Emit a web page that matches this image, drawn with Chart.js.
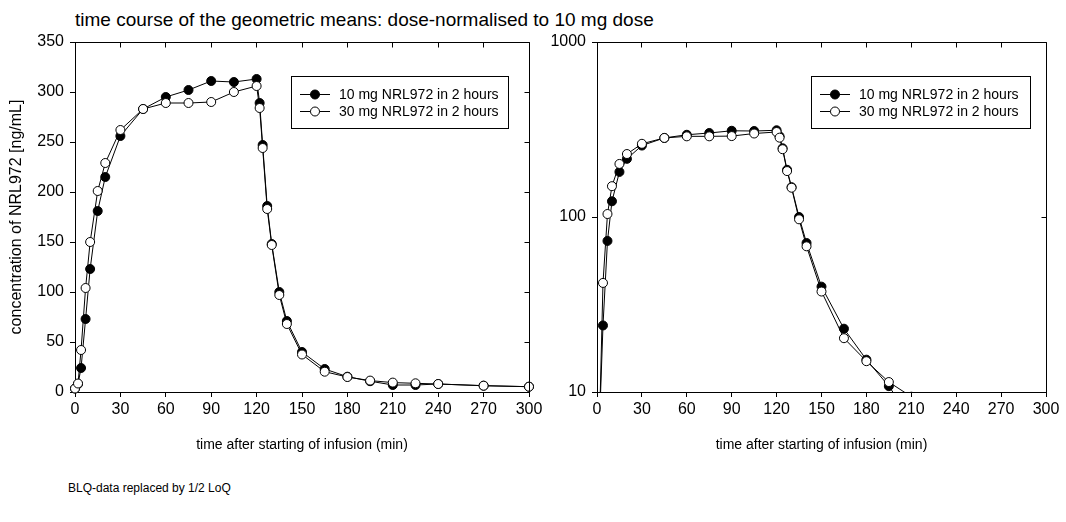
<!DOCTYPE html>
<html>
<head>
<meta charset="utf-8">
<script src="https://cdn.jsdelivr.net/npm/chart.js@4.4.1/dist/chart.umd.min.js"></script>
<style>
  body { margin: 0; background: #fff; }
  #page { position: relative; width: 1066px; height: 522px; overflow: hidden; font-family: "Liberation Sans", Arial, sans-serif; color: #000; }
  #title { position: absolute; left: 75px; top: 9px; font-size: 19px; white-space: nowrap; }
  #note { position: absolute; left: 68px; top: 481px; font-size: 12px; white-space: nowrap; }
  canvas { position: absolute; top: 0; }
  #linChart { left: 0; }
  #logChart { left: 530px; }
</style>
</head>
<body>
<div id="page">
  <div id="title">time course of the geometric means: dose-normalised to 10 mg dose</div>
  <canvas id="linChart" width="560" height="460"></canvas>
  <canvas id="logChart" width="536" height="460"></canvas>
  <div id="note">BLQ-data replaced by 1/2 LoQ</div>
</div>
<script>
// sampling times (min) and geometric means (ng/mL)
const times = [0, 2, 4, 7, 10, 15, 20, 30, 45, 60, 75, 90, 105, 120, 122, 124, 127, 130, 135, 140, 150, 165, 180, 195, 210, 225, 240, 270, 300];
const conc10mg = [3.5, 8, 24, 73, 123, 181, 215, 256, 283, 295, 302, 311, 310, 313, 289, 247, 186, 148, 100, 71, 40, 23, 15.3, 10.8, 7, 7, 8, 6.3, 5.3];
const conc30mg = [3.5, 8.5, 42, 104, 150, 201, 229, 262, 283, 289, 289, 290, 300, 306, 284, 244, 183, 147, 97, 68, 37.5, 20.3, 15, 11.4, 9.4, 8.7, 8, 6.3, 5.3];
const seriesLabels = ['10 mg NRL972 in 2 hours', '30 mg NRL972 in 2 hours'];
const logTicks = [10, 100, 1000];

Chart.defaults.font.family = '"Liberation Sans", Arial, sans-serif';
Chart.defaults.color = '#000';

function makeDatasets() {
    const pts = vals => times.map((t, i) => ({ x: t, y: vals[i] }));
    const common = {
        borderColor: '#000', borderWidth: 1, pointBorderColor: '#000',
        pointRadius: 4.5, pointBorderWidth: 1, tension: 0
    };
    return [
        Object.assign({ label: seriesLabels[0], data: pts(conc10mg), pointBackgroundColor: '#000', order: 2 }, common),
        Object.assign({ label: seriesLabels[1], data: pts(conc30mg), pointBackgroundColor: '#fff', order: 1 }, common)
    ];
}

function align(v) { return Math.round(v - 0.5) + 0.5; }

// top and right frame lines with inward ticks
const framePlugin = {
    id: 'frame',
    afterDatasetsDraw(chart) {
        const { ctx, chartArea: a, scales } = chart;
        const top = align(a.top), right = align(a.right);
        ctx.save();
        ctx.strokeStyle = '#000';
        ctx.lineWidth = 1;
        ctx.beginPath();
        ctx.moveTo(align(a.left), top); ctx.lineTo(right, top); ctx.lineTo(right, align(a.bottom));
        scales.x.ticks.forEach(t => {
            const px = align(scales.x.getPixelForValue(t.value));
            ctx.moveTo(px, top); ctx.lineTo(px, top + 5);
        });
        scales.y.ticks.forEach(t => {
            const py = align(scales.y.getPixelForValue(t.value));
            ctx.moveTo(right, py); ctx.lineTo(right - 5, py);
        });
        ctx.stroke();
        ctx.restore();
    }
};

// boxed legend with line + marker samples
const boxLegend = {
    id: 'boxLegend',
    afterDraw(chart, args, opts) {
        const ctx = chart.ctx;
        const b = opts.box;
        ctx.save();
        ctx.strokeStyle = '#000';
        ctx.lineWidth = 1;
        ctx.strokeRect(align(b.x), align(b.y), b.w, b.h);
        ctx.font = '14px "Liberation Sans", Arial, sans-serif';
        ctx.textBaseline = 'middle';
        chart.data.datasets.forEach((ds, i) => {
            const ry = align(b.y + 18 + i * 17.5);
            ctx.beginPath();
            ctx.moveTo(b.x + 9, ry); ctx.lineTo(b.x + 39, ry);
            ctx.stroke();
            ctx.beginPath();
            ctx.arc(b.x + 24, ry, ds.pointRadius, 0, Math.PI * 2);
            ctx.fillStyle = ds.pointBackgroundColor;
            ctx.fill();
            ctx.stroke();
            ctx.fillStyle = '#000';
            ctx.fillText(ds.label, b.x + 48, ry + 1);
        });
        ctx.restore();
    }
};

const axisGrid = { drawOnChartArea: false, drawTicks: true, tickLength: 5, color: '#000', lineWidth: 1 };
const axisBorder = { display: true, color: '#000', width: 1 };

function xScale() {
    return {
        type: 'linear', min: 0, max: 300,
        grid: axisGrid, border: axisBorder,
        ticks: { stepSize: 30, autoSkip: false, maxRotation: 0, padding: 3, font: { size: 16 } },
        title: { display: true, text: 'time after starting of infusion (min)', font: { size: 14 }, padding: { top: 0, bottom: 6 } },
        afterFit(s) { s.height = 68; }
    };
}

function makeChart(id, yScale, yWidth, padRight, box, clip) {
    return new Chart(document.getElementById(id), {
        type: 'line',
        data: { datasets: makeDatasets() },
        options: {
            responsive: false,
            animation: false,
            devicePixelRatio: 1,
            clip: clip,
            layout: { padding: { top: 42, left: 0, right: padRight, bottom: 0 } },
            plugins: {
                legend: { display: false },
                tooltip: { enabled: false },
                boxLegend: { box: box }
            },
            scales: {
                x: xScale(),
                y: Object.assign(yScale, { afterFit(s) { s.width = yWidth; } })
            }
        },
        plugins: [framePlugin, boxLegend]
    });
}

makeChart('linChart', {
    type: 'linear', min: 0, max: 350,
    grid: axisGrid, border: axisBorder,
    ticks: { stepSize: 50, padding: 6, font: { size: 16 } },
    title: { display: true, text: 'concentration of NRL972 [ng/mL]', font: { size: 16 }, padding: { top: 7, bottom: 0 } }
}, 75, 31, { x: 291, y: 76, w: 217, h: 52 }, false);

makeChart('logChart', {
    type: 'logarithmic', min: 10, max: 1000,
    grid: axisGrid, border: axisBorder,
    afterBuildTicks(s) { s.ticks = logTicks.map(v => ({ value: v })); },
    ticks: { padding: 6, font: { size: 16 }, callback: v => String(v) }
}, 67, 20, { x: 281, y: 76, w: 219, h: 52 }, { left: 10, top: 10, right: 10, bottom: 0 });
</script>
</body>
</html>
